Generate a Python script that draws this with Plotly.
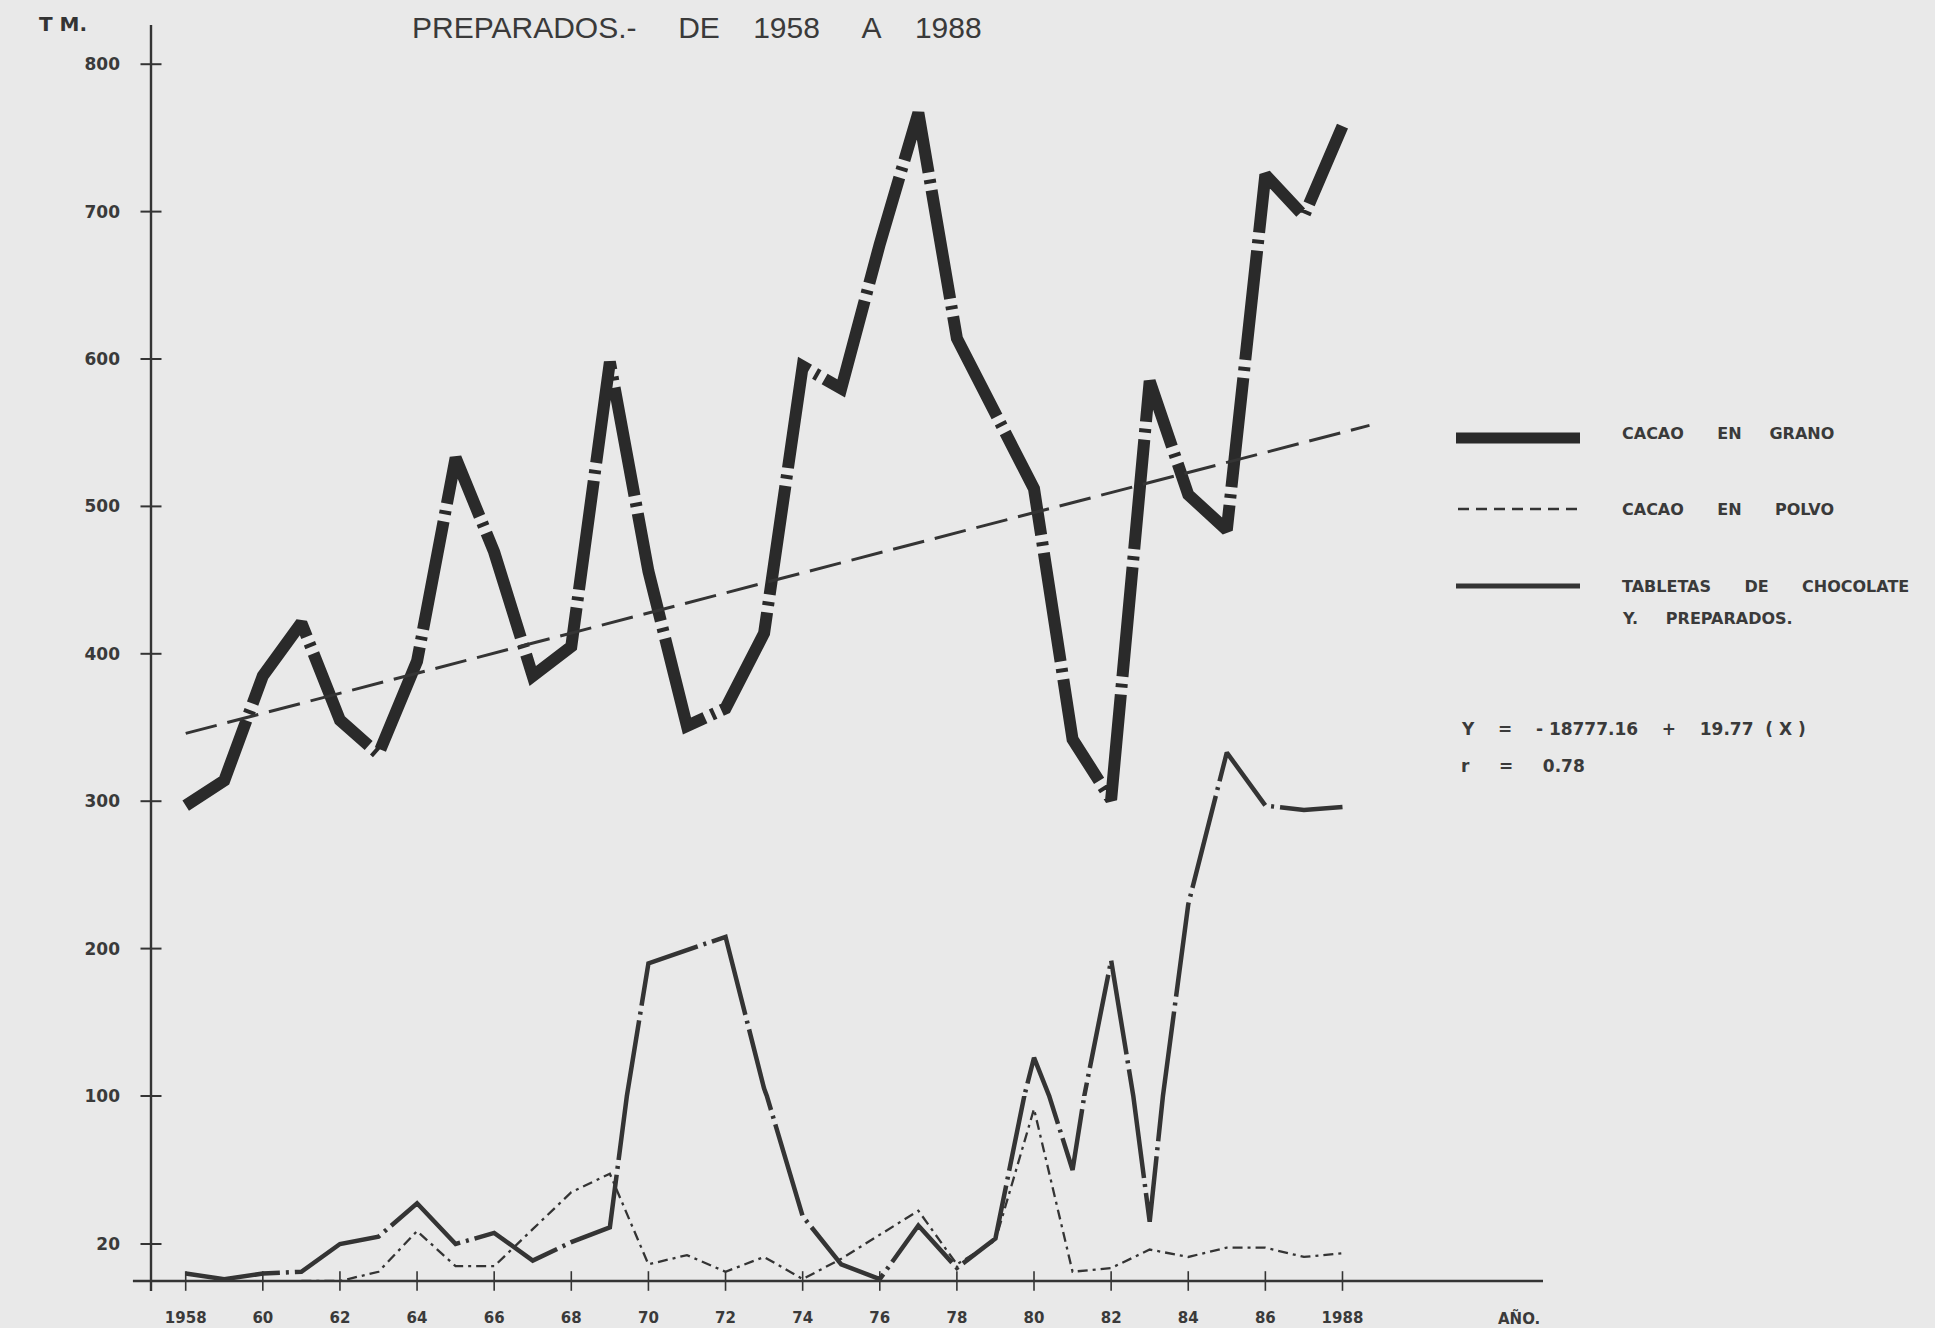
import plotly.graph_objects as go
from plotly.subplots import make_subplots

# ---- data (TM per year) ----
years = list(range(1958, 1989))
cacao_grano = [297, 314, 385, 421, 355, 332, 395, 533, 469, 385,
               405, 598, 456, 351, 363, 414, 595, 580, 678, 767,
               614, 564, 512, 342, 301, 585, 508, 484, 725, 697, 758]
cacao_polvo = [None, None, None, 0, 0, 5, 27, 8, 8, 28,
               48, 58, 9, 14, 5, 13, 1, 12, 25, 38,
               9, 22, 93, 5, 7, 17, 13, 18, 18, 13, 15]
tabletas = [4, 1, 4, 5, 20, 24, 42, 20, 26, 11,
            21, 29, 190, 199, 208, 105, 35, 9, 1, 30,
            7, 23, 126, 60, 192, 32, 230, 333, 297, 294, 296]
trend_years = [1958, 1988.7]
trend_values = [346, 555]

year_ticks = list(range(1958, 1989, 2))
year_labels = ["1958", "60", "62", "64", "66", "68", "70", "72", "74",
               "76", "78", "80", "82", "84", "86", "1988"]
upper_ticks = [200, 300, 400, 500, 600, 700, 800]
lower_ticks = [20, 100]

# ---- geometry ----
W, H = 1935, 1328
ML, MR, MT, MB = 151, 392, 25, 47
PLOT_H = H - MT - MB
LOWER_FRAC = 185 / PLOT_H          # the 0-100 band is drawn on a stretched scale
X_RANGE = [1957.1, 1993.2]
Y_UPPER = [100, 826.6]
Y_LOWER = [0, 100]

INK = "#343434"
BG = "#e9e9e9"
NB = "\u00a0"
TICK_FONT = dict(family="DejaVu Sans", size=17, color="#3a3a3a", weight="bold")


def px_x(px):
    return (px - ML) / (W - ML - MR)


def px_y(py):
    return (H - MB - py) / PLOT_H


fig = make_subplots(rows=2, cols=1, shared_xaxes=True, vertical_spacing=0)

series = [
    (cacao_grano, dict(color="#2a2a2a", width=12, dash="110px,7px,4px,7px")),
    (tabletas, dict(color=INK, width=4.5, dash="95px,6px,3px,6px")),
    (cacao_polvo, dict(color=INK, width=2.3, dash="10px,5px,3px,5px")),
]
for row in (1, 2):
    for vals, line in series:
        fig.add_trace(go.Scatter(x=years, y=vals, mode="lines", line=line,
                                 hoverinfo="skip", showlegend=False),
                      row=row, col=1)

# regression line
fig.add_trace(go.Scatter(x=trend_years, y=trend_values, mode="lines",
                         line=dict(color=INK, width=3, dash="32px,11px"),
                         hoverinfo="skip", showlegend=False), row=1, col=1)

# crossing tick marks on both axes
fig.add_trace(go.Scatter(x=[X_RANGE[0]] * len(upper_ticks), y=upper_ticks, mode="markers",
                         marker=dict(symbol="line-ew", size=15, line=dict(width=2, color=INK)),
                         cliponaxis=False, hoverinfo="skip", showlegend=False), row=1, col=1)
fig.add_trace(go.Scatter(x=[X_RANGE[0]] * len(lower_ticks), y=lower_ticks, mode="markers",
                         marker=dict(symbol="line-ew", size=15, line=dict(width=2, color=INK)),
                         cliponaxis=False, hoverinfo="skip", showlegend=False), row=2, col=1)
fig.add_trace(go.Scatter(x=year_ticks, y=[0] * len(year_ticks), mode="markers",
                         marker=dict(symbol="line-ns", size=14, line=dict(width=1.6, color=INK)),
                         cliponaxis=False, hoverinfo="skip", showlegend=False), row=2, col=1)

fig.update_xaxes(range=X_RANGE, showgrid=False, zeroline=False, showline=False, ticks="",
                 automargin=False)
fig.update_xaxes(showticklabels=False, row=1, col=1)
fig.update_xaxes(tickvals=year_ticks, ticktext=year_labels, ticklabelstandoff=26,
                 tickfont=dict(family="DejaVu Sans", size=15, color="#3a3a3a", weight="bold"),
                 row=2, col=1)

fig.update_yaxes(showgrid=False, zeroline=False, showline=False, ticks="", automargin=False)
fig.update_yaxes(range=Y_UPPER, domain=[LOWER_FRAC, 1], tickvals=upper_ticks,
                 ticklabelstandoff=30, tickfont=TICK_FONT, row=1, col=1)
fig.update_yaxes(range=Y_LOWER, domain=[0, LOWER_FRAC], tickvals=lower_ticks,
                 ticklabelstandoff=30, tickfont=TICK_FONT, row=2, col=1)

shapes = [
    # axis lines
    dict(type="line", xref="paper", yref="paper", x0=0, x1=0, y0=-0.008, y1=1,
         line=dict(color=INK, width=2.4)),
    dict(type="line", xref="paper", yref="paper", x0=-0.013, x1=1, y0=0, y1=0,
         line=dict(color=INK, width=2.6)),
    # key samples
    dict(type="line", xref="paper", yref="paper", x0=px_x(1456), x1=px_x(1580),
         y0=px_y(438), y1=px_y(438), line=dict(color="#2a2a2a", width=11)),
    dict(type="line", xref="paper", yref="paper", x0=px_x(1458), x1=px_x(1580),
         y0=px_y(509), y1=px_y(509), line=dict(color=INK, width=2.4, dash="11px,7px")),
    dict(type="line", xref="paper", yref="paper", x0=px_x(1456), x1=px_x(1580),
         y0=px_y(586), y1=px_y(586), line=dict(color=INK, width=5)),
]

KEY_FONT = dict(family="DejaVu Sans", size=16, color="#3a3a3a", weight="bold")
EQ_FONT = dict(family="DejaVu Sans", size=17, color="#3a3a3a", weight="bold")


def note(text, px, py, font, xanchor="left"):
    return dict(text=text, xref="paper", yref="paper", x=px_x(px), y=px_y(py),
                xanchor=xanchor, yanchor="middle", showarrow=False, font=font)


annotations = [
    note("T" + NB + "M.", 37, 24, dict(family="DejaVu Sans", size=20, color="#333", weight="bold")),
    note("PREPARADOS.-" + NB * 5 + "DE" + NB * 4 + "1958" + NB * 5 + "A" + NB * 4 + "1988",
         410, 27, dict(family="Liberation Sans", size=30, color="#3a3a3a")),
    note("CACAO" + NB * 6 + "EN" + NB * 5 + "GRANO", 1620, 434, KEY_FONT),
    note("CACAO" + NB * 6 + "EN" + NB * 6 + "POLVO", 1620, 509, KEY_FONT),
    note("TABLETAS" + NB * 6 + "DE" + NB * 6 + "CHOCOLATE", 1620, 586, KEY_FONT),
    note("Y." + NB * 5 + "PREPARADOS.", 1620, 619, KEY_FONT),
    note("Y" + NB * 4 + "=" + NB * 4 + "-" + NB + "18777.16" + NB * 4 + "+" + NB * 4 + "19.77" + NB * 2 + "(" + NB + "X" + NB + ")",
         1459, 729, EQ_FONT),
    note("r" + NB * 5 + "=" + NB * 5 + "0.78", 1459, 766, EQ_FONT),
    note("AÑO.", 1519, 1318, dict(family="DejaVu Sans", size=15, color="#3a3a3a", weight="bold"),
         xanchor="center"),
]

fig.update_layout(
    width=W, height=H, autosize=False,
    margin=dict(l=ML, r=MR, t=MT, b=MB),
    paper_bgcolor=BG, plot_bgcolor=BG,
    shapes=shapes, annotations=annotations,
    hovermode=False, showlegend=False,
)

fig.write_html("out.html", post_script="document.body.style.margin='0';",
               config={"displayModeBar": False})
